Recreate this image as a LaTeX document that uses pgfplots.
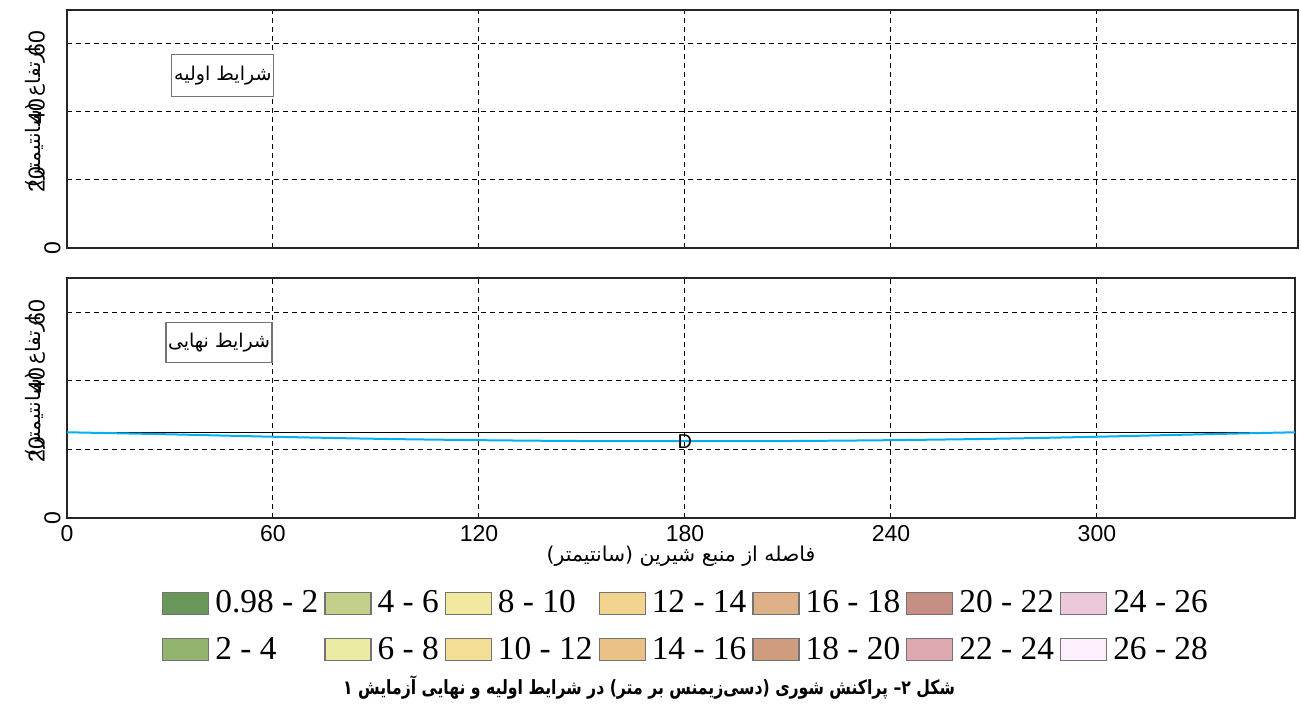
\documentclass[border=0pt]{standalone}
\usepackage{fontspec}
\usepackage{pgfplots}
\pgfplotsset{compat=1.18}
\setmainfont{Liberation Sans}
\newfontfamily\serif{Liberation Serif}
\newfontfamily\fa[Script=Arabic]{DejaVu Sans}
\newfontfamily\facap[Script=Arabic, FakeStretch=0.8]{DejaVu Sans}
\TeXXeTstate=1

\definecolor{c1}{HTML}{6A965A}
\definecolor{c2}{HTML}{93B46E}
\definecolor{c3}{HTML}{C2D08A}
\definecolor{c4}{HTML}{EBEBA3}
\definecolor{c5}{HTML}{F1E9A0}
\definecolor{c6}{HTML}{F2DF95}
\definecolor{c7}{HTML}{F2D48E}
\definecolor{c8}{HTML}{EAC187}
\definecolor{c9}{HTML}{DEB088}
\definecolor{c10}{HTML}{CF9C7E}
\definecolor{c11}{HTML}{C68F84}
\definecolor{c12}{HTML}{DDA8AE}
\definecolor{c13}{HTML}{ECC9DA}
\definecolor{c14}{HTML}{FDF0FC}
\definecolor{cyanline}{HTML}{00B0F0}

\pgfplotsset{
  panel/.style={
    scale only axis,
    anchor=south west,
    xmin=0, ymin=0, ymax=70,
    axis line style={draw=black!85, line width=0.7pt},
    xtick={0,60,120,180,240,300},
    ytick={0,20,40,60},
    yticklabels={\mbox{0},{\mbox{\rule[-8pt]{0pt}{8pt}20}},{\mbox{\rule[-8pt]{0pt}{8pt}40}},{\mbox{\rule[-8pt]{0pt}{8pt}60}}},
    major tick length=0pt,
    grid=major,
    major grid style={black, dash pattern=on 2.5pt off 2pt, line width=0.5pt},
    yticklabel style={xshift=-3pt, rotate=90, anchor=south, inner sep=0pt, font=\fontsize{11.5}{11.5}\selectfont},
    ylabel={\fa\beginR ارتفاع (سانتیمتر)\endR},
    ylabel style={at={(axis description cs:-0.026,0.55)}, anchor=center, font=\fontsize{10}{10}\selectfont},
    clip mode=individual,
  }
}

\begin{document}
\begin{tikzpicture}[x=1pt,y=1pt]
\useasboundingbox (0,0) rectangle (650.5,352);

% top panel: initial conditions
\begin{axis}[panel,
  at={(33.5pt,228pt)}, width=615.5pt, height=119pt, xmax=358.6,
  xticklabels={},
]
\addplot[draw=none, forget plot] coordinates {(0,0) (358,70)};
\node[draw=black!55, fill=white, line width=0.6pt, inner sep=1pt,
      minimum width=51pt, minimum height=21pt,
      font=\fa\fontsize{9.5}{10}\selectfont] at (axis cs:45.4,50.7) {\beginR شرایط اولیه\endR};
\end{axis}

% bottom panel: final conditions
\begin{axis}[panel,
  at={(33.5pt,93pt)}, width=614pt, height=120pt, xmax=357.7,
  xticklabels={\mbox{0},\mbox{60},\mbox{120},\mbox{180},\mbox{240},\mbox{300}},
  xticklabel style={font=\fontsize{11.5}{12}\selectfont},
  xlabel={\fa\beginR فاصله از منبع شیرین (سانتیمتر)\endR},
  xlabel style={at={(axis description cs:0.5,-0.16)}, anchor=center, font=\fontsize{10.2}{10.2}\selectfont},
  legend columns=7,
  legend cell align=left,
  legend style={at={(axis description cs:0.5045,-0.293)}, anchor=north, draw=none, fill=none,
    font=\serif\fontsize{16.7}{16.7}\selectfont, inner sep=0pt,
    nodes={inner xsep=1.5pt, inner ysep=1pt},
    row sep=8.5pt,
    /tikz/every odd column/.append style={column sep=1.5pt},
    /tikz/every even column/.append style={column sep=1.5pt}},
  legend image code/.code={\draw[#1, draw=black!55, line width=0.6pt] (0pt,-5.5pt) rectangle (23pt,5.5pt);},
]
\addplot[black, line width=0.6pt, forget plot] coordinates {(0,25) (357.7,25)};
\addplot[cyanline, line width=1pt, smooth, forget plot] coordinates {
  (0,25) (30,24.4) (60,23.7) (90,23.1) (120,22.7) (150,22.45) (180,22.4)
  (210,22.45) (240,22.7) (270,23.1) (300,23.7) (330,24.4) (357.7,25)};
\node[font=\fontsize{10}{10}\selectfont, inner sep=0pt] at (axis cs:180,22.4) {D};
\node[draw=black!55, fill=white, line width=0.6pt, inner sep=1pt,
      minimum width=49pt, minimum height=20pt,
      font=\fa\fontsize{9.5}{10}\selectfont] at (axis cs:44.3,51.3) {\beginR شرایط نهایی\endR};

\addlegendimage{fill=c1}\addlegendentry{0.98 - 2}
\addlegendimage{fill=c3}\addlegendentry{4 - 6}
\addlegendimage{fill=c5}\addlegendentry{8 - 10}
\addlegendimage{fill=c7}\addlegendentry{12 - 14}
\addlegendimage{fill=c9}\addlegendentry{16 - 18}
\addlegendimage{fill=c11}\addlegendentry{20 - 22}
\addlegendimage{fill=c13}\addlegendentry{24 - 26}
\addlegendimage{fill=c2}\addlegendentry{2 - 4}
\addlegendimage{fill=c4}\addlegendentry{6 - 8}
\addlegendimage{fill=c6}\addlegendentry{10 - 12}
\addlegendimage{fill=c8}\addlegendentry{14 - 16}
\addlegendimage{fill=c10}\addlegendentry{18 - 20}
\addlegendimage{fill=c12}\addlegendentry{22 - 24}
\addlegendimage{fill=c14}\addlegendentry{26 - 28}

\node[font=\facap\bfseries\fontsize{9.8}{10}\selectfont] at (axis description cs:0.474,-0.708)
  {\beginR شکل ۲– پراکنش شوری (دسی‌زیمنس بر متر) در شرایط اولیه و نهایی آزمایش ۱\endR};
\end{axis}
\end{tikzpicture}
\end{document}
